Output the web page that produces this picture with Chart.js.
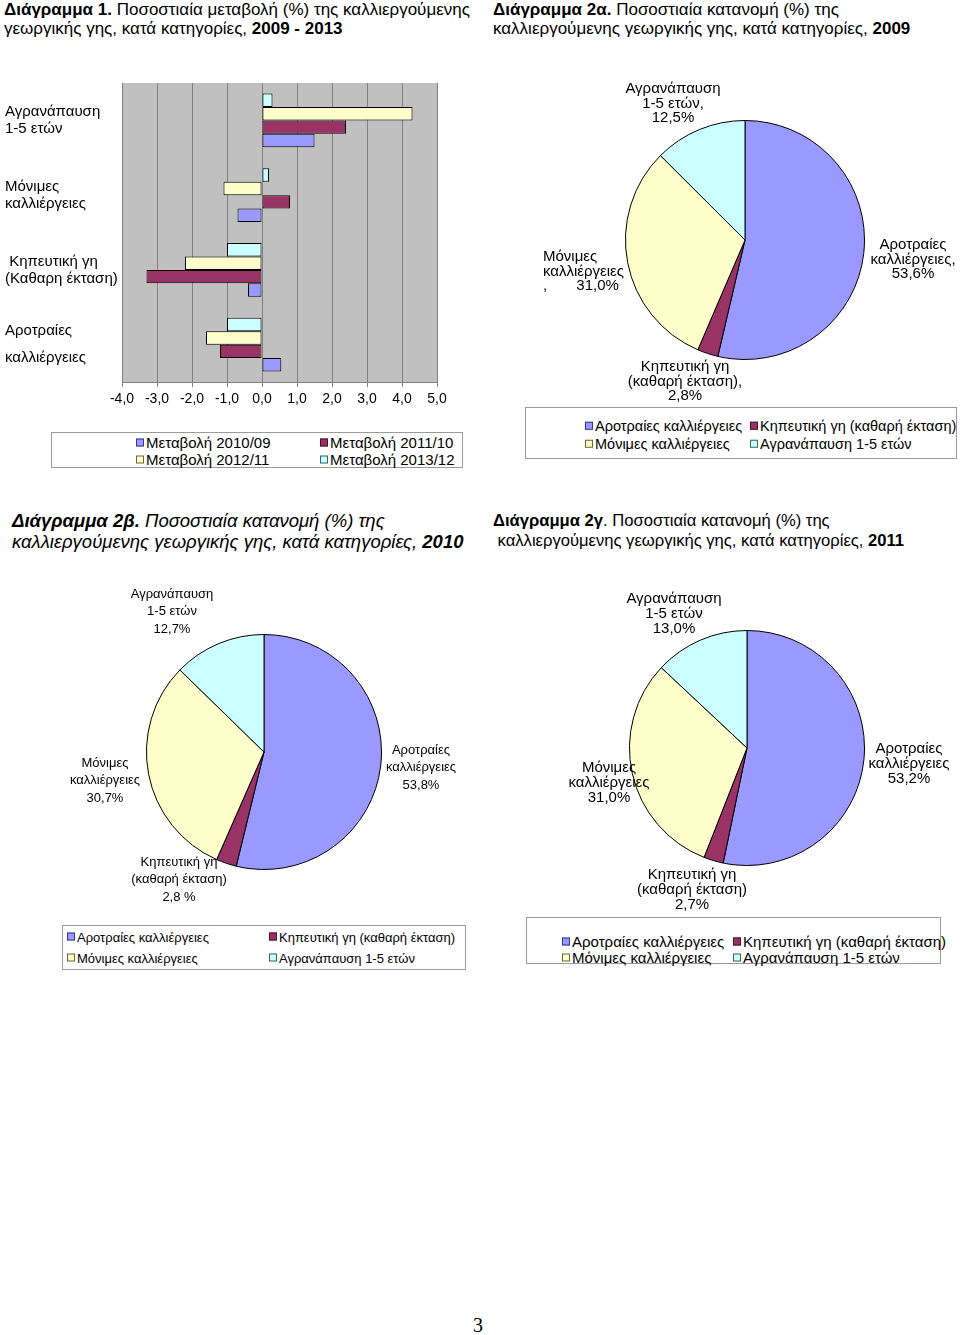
<!DOCTYPE html>
<html>
<head>
<meta charset="utf-8">
<script src="https://cdn.jsdelivr.net/npm/chart.js@4"></script>
<style>
body { margin: 0; background: #fff; }
#page { position: relative; width: 960px; height: 1335px; overflow: hidden; font-family: "Liberation Sans", Arial, sans-serif; color: #000; }
.title { position: absolute; white-space: nowrap; }
.narrow { font-family: "Liberation Sans Narrow", "Liberation Sans", sans-serif; font-size: 17px; line-height: 19px; }
.box { position: absolute; border: 1px solid #9a9a9a; box-sizing: border-box; background: #fff; }
.item { position: absolute; white-space: nowrap; line-height: 1; transform: translateY(-50%); }
.sw { display: inline-block; width: 6px; height: 6px; border: 1px solid #333; margin-right: 2px; vertical-align: 1px; }
.wrap { position: absolute; }
#pageno { position: absolute; left: 473px; top: 1314px; font-family: "Liberation Serif", serif; font-size: 20px; }
</style>
</head>
<body>
<div id="page">
  <div class="title narrow" style="left:4px;top:0px"><b>Διάγραμμα 1.</b> Ποσοστιαία μεταβολή (%) της καλλιεργούμενης<br>γεωργικής γης, κατά κατηγορίες, <b>2009 - 2013</b></div>
  <div class="title narrow" style="left:493px;top:0px"><b>Διάγραμμα 2α.</b> Ποσοστιαία κατανομή (%) της<br>καλλιεργούμενης γεωργικής γης, κατά κατηγορίες, <b>2009</b></div>
  <div class="title" style="left:12px;top:510px;font-size:18.5px;line-height:21px;font-style:italic"><b>Διάγραμμα 2β.</b> Ποσοστιαία κατανομή (%) της<br>καλλιεργούμενης γεωργικής γης, κατά κατηγορίες, <b>2010</b></div>
  <div class="title" style="left:493px;top:511px;font-size:16.6px;line-height:20px"><b>Διάγραμμα 2γ</b>. Ποσοστιαία κατανομή (%) της<br>&nbsp;καλλιεργούμενης γεωργικής γης, κατά κατηγορίες, <b>2011</b></div>

  <div class="wrap" style="left:0px;top:75px;width:470px;height:345px"><canvas id="barChart"></canvas></div>
  <div class="wrap" style="left:525px;top:75px;width:435px;height:330px"><canvas id="pie2009"></canvas></div>
  <div class="wrap" style="left:0px;top:575px;width:480px;height:340px"><canvas id="pie2010"></canvas></div>
  <div class="wrap" style="left:480px;top:575px;width:480px;height:340px"><canvas id="pie2011"></canvas></div>

  <div id="legBar" class="box" style="left:51px;top:432px;width:412px;height:36px;font-size:15px"></div>
  <div id="leg2009" class="box" style="left:525px;top:407px;width:432px;height:52px;font-size:14.5px"></div>
  <div id="leg2010" class="box" style="left:62px;top:925px;width:404px;height:45px;font-size:13px"></div>
  <div id="leg2011" class="box" style="left:526px;top:917px;width:415px;height:47px;font-size:15px"></div>

  <div id="pageno">3</div>
</div>

<script>
// ---- data: Διάγραμμα 1 (μεταβολή %), categories top to bottom ----
const barCategories = [
    ['Αγρανάπαυση', '1-5 ετών'],
    ['Μόνιμες', 'καλλιέργειες'],
    [' Κηπευτική γη', '(Καθαρη έκταση)'],
    ['Αροτραίες', 'καλλιέργειες']
];
const seriesNames = ['Μεταβολή 2010/09', 'Μεταβολή 2011/10', 'Μεταβολή 2012/11', 'Μεταβολή 2013/12'];
const change2010_09 = [1.5, -0.7, -0.4, 0.55];
const change2011_10 = [2.4, 0.8, -3.3, -1.2];
const change2012_11 = [4.3, -1.1, -2.2, -1.6];
const change2013_12 = [0.3, 0.2, -1.0, -1.0];
const xTicks = [-4, -3, -2, -1, 0, 1, 2, 3, 4, 5];

// ---- data: Διαγράμματα 2α, 2β, 2γ (κατανομή %) ----
const pieCategories = ['Αροτραίες καλλιέργειες', 'Κηπευτική γη (καθαρή έκταση)', 'Μόνιμες καλλιέργειες', 'Αγρανάπαυση 1-5 ετών'];
const share2009 = [53.6, 2.8, 31.0, 12.5];
const share2010 = [53.8, 2.8, 30.7, 12.7];
const share2011 = [53.2, 2.7, 31.0, 13.0];

// label wording as printed in each chart ({v} = value)
const pieText2009 = [['Αροτραίες', 'καλλιέργειες,', '{v}%'], ['Κηπευτική γη', '(καθαρή έκταση),', '{v}%'], ['Μόνιμες', 'καλλιέργειες', ',       {v}%'], ['Αγρανάπαυση', '1-5 ετών,', '{v}%']];
const pieText2010 = [['Αροτραίες', 'καλλιέργειες', '{v}%'], ['Κηπευτική γη', '(καθαρή έκταση)', '{v} %'], ['Μόνιμες', 'καλλιέργειες', '{v}%'], ['Αγρανάπαυση', '1-5 ετών', '{v}%']];
const pieText2011 = [['Αροτραίες', 'καλλιέργειες', '{v}%'], ['Κηπευτική γη', '(καθαρή έκταση)', '{v}%'], ['Μόνιμες', 'καλλιέργειες', '{v}%'], ['Αγρανάπαυση', '1-5 ετών', '{v}%']];

// ---- styles / layout ----
const colors = ['#9999FF', '#993366', '#FFFFCC', '#CCFFFF'];
const swatchBorders = ['#333399', '#4a1030', '#666633', '#336666'];

const fmt = v => v.toFixed(1).replace('.', ',');

Chart.defaults.font.family = "'Liberation Sans', Arial, sans-serif";
Chart.defaults.color = '#000';
Chart.defaults.animation = false;
Chart.defaults.plugins.legend.display = false;
Chart.defaults.plugins.tooltip.enabled = false;

const plotBackground = {
    id: 'plotBackground',
    beforeDraw(chart) {
        const { ctx, chartArea: a } = chart;
        ctx.save();
        ctx.fillStyle = '#C0C0C0';
        ctx.fillRect(a.left, a.top, a.right - a.left, a.bottom - a.top);
        ctx.restore();
    }
};

// pie labels placed relative to the pie centre
const pieLabels = {
    id: 'pieLabels',
    afterDraw(chart, args, opts) {
        const { ctx } = chart;
        const arcs = chart.getDatasetMeta(0).data;
        const values = chart.data.datasets[0].data;
        ctx.save();
        ctx.fillStyle = '#000';
        ctx.textBaseline = 'middle';
        ctx.font = opts.size + "px 'Liberation Sans', Arial, sans-serif";
        arcs.forEach((arc, i) => {
            const [dx, dy, align] = opts.spots[i];
            ctx.textAlign = align;
            opts.text[i].forEach((line, j) => {
                ctx.fillText(line.replace('{v}', fmt(values[i])), arc.x + dx, arc.y + dy + j * opts.gap);
            });
        });
        ctx.restore();
    }
};

// series listed last-first so 2010/09 sits at the bottom of each group
const barSeries = [change2010_09, change2011_10, change2012_11, change2013_12];
const barDatasets = barSeries.map((d, i) => ({
    label: seriesNames[i],
    data: d,
    backgroundColor: colors[i],
    borderColor: '#000',
    borderWidth: 1,
    borderSkipped: false,
    categoryPercentage: 0.72,
    barPercentage: 1.0
})).reverse();

new Chart(document.getElementById('barChart'), {
    type: 'bar',
    data: { labels: barCategories, datasets: barDatasets },
    options: {
        indexAxis: 'y',
        responsive: true,
        maintainAspectRatio: false,
        layout: { padding: { left: 5, right: 33, top: 8, bottom: 0 } },
        scales: {
            x: {
                min: -4, max: 5,
                afterBuildTicks: s => { s.ticks = xTicks.map(v => ({ value: v })); },
                afterFit: s => { s.height = 38; },
                grid: { color: '#808080', lineWidth: 1, tickLength: 5, tickColor: '#808080' },
                border: { color: '#808080' },
                ticks: { callback: v => fmt(v), font: { size: 14 }, padding: 4, maxRotation: 0 }
            },
            y: {
                afterFit: s => { s.width = 117; s.paddingTop = 0; s.paddingBottom = 0; },
                grid: { display: false },
                border: { display: false },
                ticks: {
                    crossAlign: 'far',
                    font: c => ({ size: 15, lineHeight: c.index === 3 ? '27px' : '17px' })
                }
            }
        }
    },
    plugins: [plotBackground]
});

function makePie(id, values, text, layout) {
    new Chart(document.getElementById(id), {
        type: 'pie',
        data: {
            labels: pieCategories,
            datasets: [{ data: values, backgroundColor: colors, borderColor: '#000', borderWidth: 1 }]
        },
        options: {
            responsive: true,
            maintainAspectRatio: false,
            layout: { padding: layout.padding },
            plugins: { pieLabels: { text: text, spots: layout.spots, size: layout.size, gap: layout.gap } }
        },
        plugins: [pieLabels]
    });
}

makePie('pie2009', share2009, pieText2009, {
    padding: { left: 100, right: 95, top: 45, bottom: 45 }, size: 15, gap: 14.5,
    spots: [[168, 5, 'center'], [-60, 127, 'center'], [-202, 17, 'left'], [-72, -151, 'center']]
});
makePie('pie2010', share2010, pieText2010, {
    padding: { left: 146, right: 98, top: 59, bottom: 45 }, size: 13, gap: 17.5,
    spots: [[157, -2, 'center'], [-85, 110, 'center'], [-159, 11, 'center'], [-92, -158, 'center']]
});
makePie('pie2011', share2011, pieText2011, {
    padding: { left: 149, right: 95, top: 55, bottom: 49 }, size: 15, gap: 15,
    spots: [[162, 1, 'center'], [-55, 127, 'center'], [-138, 20, 'center'], [-73, -149, 'center']]
});

// legends (two columns, two rows) built from the series names
function buildLegend(id, names, cols, rows) {
    const box = document.getElementById(id);
    names.forEach((name, i) => {
        const el = document.createElement('div');
        el.className = 'item';
        el.style.left = cols[i % 2] + 'px';
        el.style.top = rows[Math.floor(i / 2)] + 'px';
        el.innerHTML = '<span class="sw" style="background:' + colors[i] + ';border-color:' + swatchBorders[i] + '"></span>' + name;
        box.appendChild(el);
    });
}
buildLegend('legBar', seriesNames, [84, 268], [9, 26]);
buildLegend('leg2009', pieCategories, [59, 224], [18, 36]);
buildLegend('leg2010', pieCategories, [4, 206], [11, 32]);
buildLegend('leg2011', pieCategories, [35, 206], [23, 39]);
</script>
</body>
</html>
